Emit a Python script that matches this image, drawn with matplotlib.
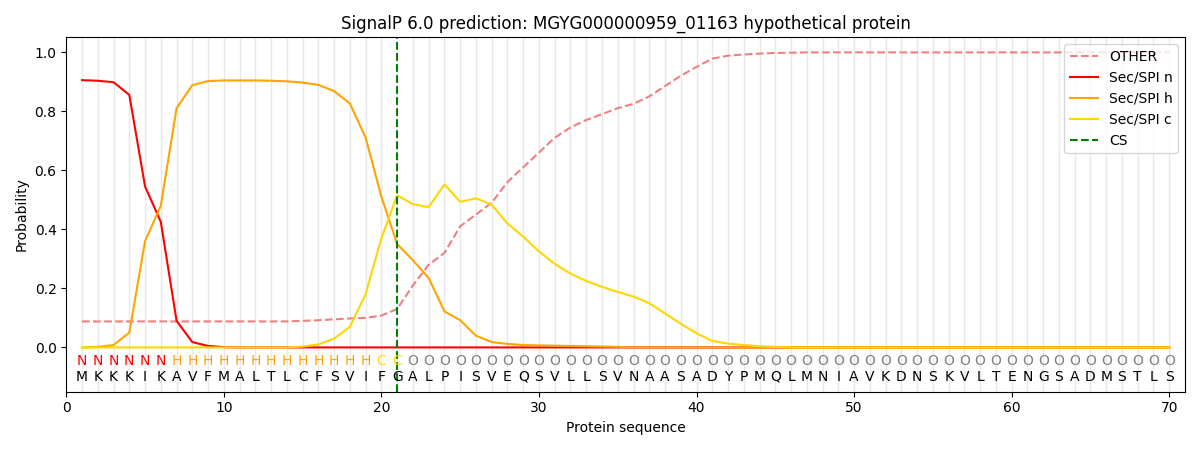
import matplotlib
matplotlib.use("Agg")
import matplotlib.pyplot as plt
import numpy as np

seq = list("MKKKIKAVFMALTLCFSVIFGALPISVEQSVLLSVNAASADYPMQLMNIAVKDNSKVLTENGSADMSTLS")
labels = list("NNNNNN" + "H"*13 + "CC" + "O"*49)
pos = np.arange(1, len(seq)+1)

other = [0.088]*14 + [0.09, 0.092, 0.095, 0.098, 0.10, 0.108, 0.13, 0.21, 0.28, 0.32, 0.41, 0.45, 0.49, 0.56,
         0.61, 0.66, 0.71, 0.745, 0.77, 0.79, 0.81, 0.825, 0.85, 0.885, 0.92, 0.95, 0.978, 0.988, 0.992,
         0.995, 0.997, 0.998] + [0.999]*24
sec_n = [0.905, 0.903, 0.898, 0.855, 0.545, 0.425, 0.09, 0.018, 0.005, 0.001] + [0.0]*60
sec_h = [0.0, 0.002, 0.008, 0.05, 0.36, 0.48, 0.81, 0.888, 0.902, 0.904, 0.904, 0.904, 0.903, 0.901, 0.897,
         0.889, 0.868, 0.826, 0.71, 0.51, 0.35, 0.295, 0.235, 0.122, 0.092, 0.04, 0.018, 0.012, 0.008,
         0.007, 0.006, 0.005, 0.004, 0.003, 0.002] + [0.0]*35
sec_c = [0.0]*14 + [0.003, 0.01, 0.03, 0.07, 0.18, 0.37, 0.515, 0.485, 0.475, 0.552, 0.493, 0.505, 0.483,
         0.42, 0.375, 0.325, 0.283, 0.25, 0.225, 0.205, 0.188, 0.172, 0.15, 0.115, 0.08, 0.048, 0.022,
         0.013, 0.008, 0.004, 0.002] + [0.0]*25
cs_pos = 21

fig, ax = plt.subplots(figsize=(12, 4.5), dpi=100)
for p in pos:
    ax.axvline(p, color="#e8e8e8", lw=1, zorder=0)
ax.plot(pos, other, ls="--", color="#f08080", label="OTHER")
ax.plot(pos, sec_n, color="red", label="Sec/SPI n")
ax.plot(pos, sec_h, color="orange", label="Sec/SPI h")
ax.plot(pos, sec_c, color="gold", label="Sec/SPI c")
ax.axvline(cs_pos, color="green", ls="--", label="CS")
cmap = {"N": "red", "H": "orange", "C": "gold", "O": "grey"}
for p, a, l in zip(pos, seq, labels):
    ax.text(p, -0.045, l, ha="center", va="center", fontsize=10, color=cmap[l])
    ax.text(p, -0.1, a, ha="center", va="center", fontsize=10, color="black")
ax.set_xlim(0, 71)
ax.set_ylim(-0.15, 1.05)
ax.set_xlabel("Protein sequence")
ax.set_ylabel("Probability")
ax.set_title("SignalP 6.0 prediction: MGYG000000959_01163 hypothetical protein")
ax.legend(loc="upper right")
fig.tight_layout()
fig.savefig("out.png")
